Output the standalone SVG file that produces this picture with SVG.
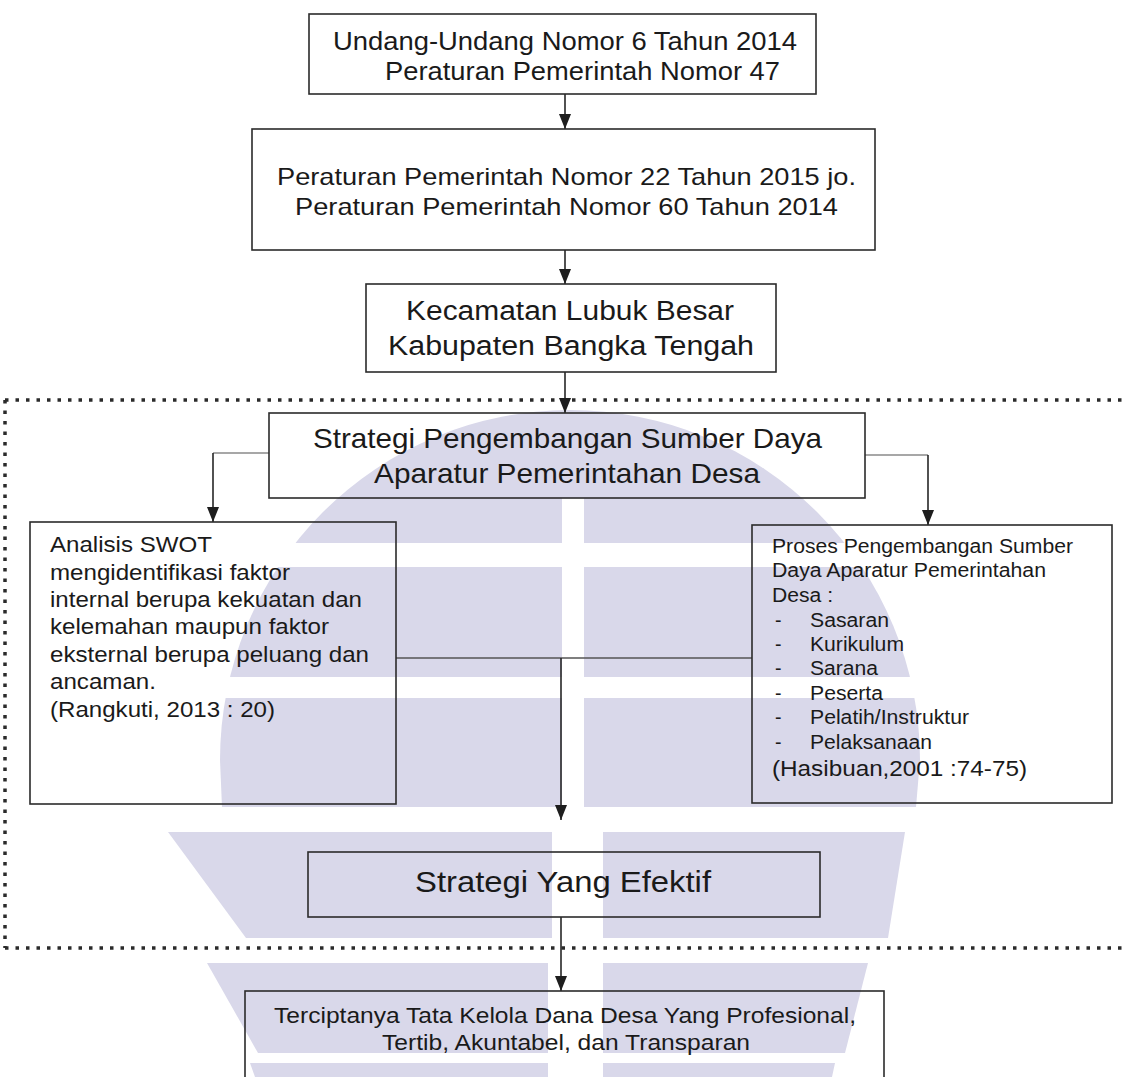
<svg xmlns="http://www.w3.org/2000/svg" width="1122" height="1077" viewBox="0 0 1122 1077">
<style>
.box{fill:none;stroke:#2b2b2b;stroke-width:1.6}
.t{font-family:"Liberation Sans",Arial,sans-serif;fill:#1a1a1a}
.ln{fill:none;stroke:#262626;stroke-width:1.6}
.mid{fill:none;stroke:#555555;stroke-width:1.4}
.faint{fill:none;stroke:#8a8a8a;stroke-width:1.4}
.dots{fill:none;stroke:#2a2a2a;stroke-width:3.5;stroke-dasharray:3.5 7}
.wm{fill:#d9d8ea}
.gap{fill:#ffffff}
</style>
<defs>
<marker id="ah" markerUnits="userSpaceOnUse" markerWidth="15" markerHeight="12" viewBox="0 0 15 12" refX="15" refY="6" orient="auto">
<path d="M0,0 L15,6 L0,12 z" fill="#1e1e1e"/>
</marker>
</defs>
<rect width="1122" height="1077" fill="#ffffff"/>
<g id="watermark">
<path class="wm" d="M222,807 L220,760 A350,350 0 0 1 920,760 L916,807 Z"/>
<rect class="gap" x="0" y="543" width="1122" height="24"/>
<rect class="gap" x="0" y="677" width="1122" height="21"/>
<rect class="gap" x="562" y="498" width="22" height="320"/>
<path class="wm" d="M168,832 L552,832 L552,938 L246,938 Z"/>
<path class="wm" d="M603,832 L905,832 L888,938 L603,938 Z"/>
<path class="wm" d="M207,963 L548,963 L548,1053 L258,1053 Z"/>
<path class="wm" d="M603,963 L868,963 L845,1053 L603,1053 Z"/>
<path class="wm" d="M250,1063 L548,1063 L548,1077 L255,1077 Z"/>
<path class="wm" d="M603,1063 L835,1063 L832,1077 L603,1077 Z"/>
</g>
<g id="frame">
<path class="dots" d="M5,400 H1122 M5,400 V948 M5,948 H1122"/>
</g>
<g id="connectors">
<line class="ln" x1="565" y1="94" x2="565" y2="129" marker-end="url(#ah)"/>
<line class="ln" x1="565" y1="250" x2="565" y2="284" marker-end="url(#ah)"/>
<line class="ln" x1="565" y1="372" x2="565" y2="413" marker-end="url(#ah)"/>
<line class="faint" x1="269" y1="453" x2="213" y2="453"/>
<line class="ln" x1="213" y1="453" x2="213" y2="522" marker-end="url(#ah)"/>
<line class="faint" x1="865" y1="455" x2="928" y2="455"/>
<line class="ln" x1="928" y1="455" x2="928" y2="525" marker-end="url(#ah)"/>
<line class="mid" x1="396" y1="658" x2="752" y2="658"/>
<line class="ln" x1="561" y1="658" x2="561" y2="820" marker-end="url(#ah)"/>
<line class="ln" x1="561" y1="917" x2="561" y2="991" marker-end="url(#ah)"/>
</g>
<g id="n1">
<rect class="box" x="309" y="14" width="507" height="80"/>
<text class="t" font-size="26" x="333" y="50" textLength="464" lengthAdjust="spacingAndGlyphs">Undang-Undang Nomor 6 Tahun 2014</text>
<text class="t" font-size="26" x="385" y="80" textLength="395" lengthAdjust="spacingAndGlyphs">Peraturan Pemerintah Nomor 47</text>
</g>
<g id="n2">
<rect class="box" x="252" y="129" width="623" height="121"/>
<text class="t" font-size="24" x="277" y="185" textLength="579" lengthAdjust="spacingAndGlyphs">Peraturan Pemerintah Nomor 22 Tahun 2015 jo.</text>
<text class="t" font-size="24" x="295" y="215" textLength="543" lengthAdjust="spacingAndGlyphs">Peraturan Pemerintah Nomor 60 Tahun 2014</text>
</g>
<g id="n3">
<rect class="box" x="366" y="284" width="410" height="88"/>
<text class="t" font-size="27" x="406" y="320" textLength="328" lengthAdjust="spacingAndGlyphs">Kecamatan Lubuk Besar</text>
<text class="t" font-size="27" x="388" y="355" textLength="366" lengthAdjust="spacingAndGlyphs">Kabupaten Bangka Tengah</text>
</g>
<g id="n4">
<rect class="box" x="269" y="413" width="596" height="85"/>
<text class="t" font-size="28" x="313" y="448" textLength="509" lengthAdjust="spacingAndGlyphs">Strategi Pengembangan Sumber Daya</text>
<text class="t" font-size="28" x="374" y="483" textLength="386" lengthAdjust="spacingAndGlyphs">Aparatur Pemerintahan Desa</text>
</g>
<g id="n5">
<rect class="box" x="30" y="522" width="366" height="282"/>
<text class="t" font-size="22.5" x="50" y="552" textLength="162" lengthAdjust="spacingAndGlyphs">Analisis SWOT</text>
<text class="t" font-size="22.5" x="50" y="580" textLength="240" lengthAdjust="spacingAndGlyphs">mengidentifikasi faktor</text>
<text class="t" font-size="22.5" x="50" y="607" textLength="312" lengthAdjust="spacingAndGlyphs">internal berupa kekuatan dan</text>
<text class="t" font-size="22.5" x="50" y="634" textLength="279" lengthAdjust="spacingAndGlyphs">kelemahan maupun faktor</text>
<text class="t" font-size="22.5" x="50" y="662" textLength="319" lengthAdjust="spacingAndGlyphs">eksternal berupa peluang dan</text>
<text class="t" font-size="22.5" x="50" y="689" textLength="106" lengthAdjust="spacingAndGlyphs">ancaman.</text>
<text class="t" font-size="22.5" x="50" y="717" textLength="225" lengthAdjust="spacingAndGlyphs">(Rangkuti, 2013 : 20)</text>
</g>
<g id="n6">
<rect class="box" x="752" y="525" width="360" height="278"/>
<text class="t" font-size="19.5" x="772" y="553" textLength="301" lengthAdjust="spacingAndGlyphs">Proses Pengembangan Sumber</text>
<text class="t" font-size="19.5" x="772" y="577" textLength="274" lengthAdjust="spacingAndGlyphs">Daya Aparatur Pemerintahan</text>
<text class="t" font-size="19.5" x="772" y="602" textLength="61" lengthAdjust="spacingAndGlyphs">Desa :</text>
<text class="t" font-size="19.5" x="775" y="627">-</text>
<text class="t" font-size="19.5" x="810" y="627" textLength="79" lengthAdjust="spacingAndGlyphs">Sasaran</text>
<text class="t" font-size="19.5" x="775" y="651">-</text>
<text class="t" font-size="19.5" x="810" y="651" textLength="94" lengthAdjust="spacingAndGlyphs">Kurikulum</text>
<text class="t" font-size="19.5" x="775" y="675">-</text>
<text class="t" font-size="19.5" x="810" y="675" textLength="68" lengthAdjust="spacingAndGlyphs">Sarana</text>
<text class="t" font-size="19.5" x="775" y="700">-</text>
<text class="t" font-size="19.5" x="810" y="700" textLength="73" lengthAdjust="spacingAndGlyphs">Peserta</text>
<text class="t" font-size="19.5" x="775" y="724">-</text>
<text class="t" font-size="19.5" x="810" y="724" textLength="159" lengthAdjust="spacingAndGlyphs">Pelatih/Instruktur</text>
<text class="t" font-size="19.5" x="775" y="749">-</text>
<text class="t" font-size="19.5" x="810" y="749" textLength="122" lengthAdjust="spacingAndGlyphs">Pelaksanaan</text>
<text class="t" font-size="22.5" x="772" y="776" textLength="255" lengthAdjust="spacingAndGlyphs">(Hasibuan,2001 :74-75)</text>
</g>
<g id="n7">
<rect class="box" x="308" y="852" width="512" height="65"/>
<text class="t" font-size="29" x="415" y="892" textLength="296" lengthAdjust="spacingAndGlyphs">Strategi Yang Efektif</text>
</g>
<g id="n8">
<rect class="box" x="245" y="991" width="639" height="110"/>
<text class="t" font-size="21.5" x="274" y="1023" textLength="582" lengthAdjust="spacingAndGlyphs">Terciptanya Tata Kelola Dana Desa Yang Profesional,</text>
<text class="t" font-size="21.5" x="382" y="1050" textLength="368" lengthAdjust="spacingAndGlyphs">Tertib, Akuntabel, dan Transparan</text>
</g>
</svg>
